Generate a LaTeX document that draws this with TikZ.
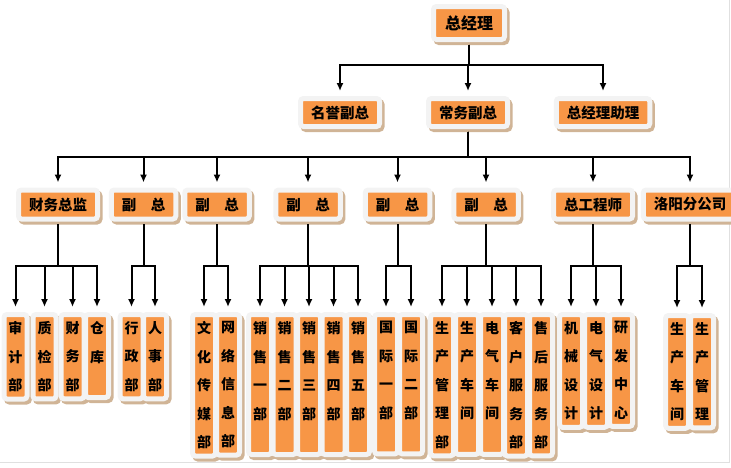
\documentclass[tikz,border=0pt]{standalone}
\usepackage{fontspec}
\newfontfamily\cjk{Noto Sans CJK SC}
\usetikzlibrary{arrows.meta,shadows}
\definecolor{boxorange}{RGB}{247,150,70}
\definecolor{boxframe}{RGB}{243,243,243}
\definecolor{boxshadow}{RGB}{208,180,150}
\tikzset{
	box/.style={fill=boxorange, draw=boxframe, line width=5pt, rounded corners=3pt,
		drop shadow={shadow xshift=2.5pt, shadow yshift=-3pt, fill=boxshadow, draw=boxshadow, line width=5pt, opacity=1},
		font=\cjk\bfseries\fontsize{14.5}{17}\selectfont, inner xsep=10.5pt, inner ysep=0pt, minimum height=29pt},
	dept/.style={box, font=\cjk\bfseries\fontsize{14}{28.5}\selectfont, align=center,
		inner xsep=4.5pt, inner ysep=7pt, minimum height=0pt, anchor=north},
	link/.style={line width=2pt, shorten <=2.5pt, shorten >=5pt, -{Latex[length=8pt,width=7pt]}},
}
\def\branch(#1)(#2)(#3){\draw[link] (#1.south) -- (#1.south |- 0,#3) -| (#2.north);}

\begin{document}
\begin{tikzpicture}[x=1pt, y=-1pt]
	%%%%% START %%%%%
	\useasboundingbox (0,0) rectangle (731,467);
	\draw[black!12, line width=0.8pt] (0,462) -- (729,462) -- (729,0);
	
	\node[box, font=\cjk\bfseries\fontsize{16}{19}\selectfont, minimum height=33pt, inner xsep=11.5pt] (zjl) at (469,23) {总经理};
	
	\node[box, minimum height=28pt] (mygz) at (340,112.5) {名誉副总};
	\node[box, minimum height=28pt] (cwfz) at (468,112.5) {常务副总};
	\node[box, minimum height=28pt] (zjlzl) at (603,112.5) {总经理助理};
	
	\node[box] (cwzj) at (58,204.5) {财务总监};
	\node[box] (fz1) at (143.5,204.5) {副\quad 总};
	\node[box] (fz2) at (217,204.5) {副\quad 总};
	\node[box] (fz3) at (308,204.5) {副\quad 总};
	\node[box] (fz4) at (397.5,204.5) {副\quad 总};
	\node[box] (fz5) at (486,204.5) {副\quad 总};
	\node[box] (zgcs) at (593,204.5) {总工程师};
	\node[box] (lyfgs) at (690,204.5) {洛阳分公司};
	
	\node[dept] (sjb) at (15.5,312) {审\\计\\部};
	\node[dept] (zjb) at (44.5,312) {质\\检\\部};
	\node[dept] (cwb) at (72.5,312) {财\\务\\部};
	\node[dept] (ck) at (97,312) {仓\\库\\\mbox{}};
	
	\node[dept] (xzb) at (131.5,312) {行\\政\\部};
	\node[dept] (rsb) at (155,312) {人\\事\\部};
	
	\node[dept] (whcm) at (204,312) {文\\化\\传\\媒\\部};
	\node[dept] (wlxx) at (228,312) {网\\络\\信\\息\\部};
	
	\node[dept] (xs1) at (260,312) {销\\售\\一\\部\\\mbox{}};
	\node[dept] (xs2) at (284.5,312) {销\\售\\二\\部\\\mbox{}};
	\node[dept] (xs3) at (309,312) {销\\售\\三\\部\\\mbox{}};
	\node[dept] (xs4) at (333.5,312) {销\\售\\四\\部\\\mbox{}};
	\node[dept] (xs5) at (358,312) {销\\售\\五\\部\\\mbox{}};
	
	\node[dept] (gj1) at (386,312) {国\\际\\一\\部\\\mbox{}};
	\node[dept] (gj2) at (411,312) {国\\际\\二\\部\\\mbox{}};
	
	\node[dept] (scgl) at (442,312) {生\\产\\管\\理\\部};
	\node[dept] (sccj) at (467,312) {生\\产\\车\\间\\\mbox{}};
	\node[dept] (dqcj) at (492,312) {电\\气\\车\\间\\\mbox{}};
	\node[dept] (khfw) at (516,312) {客\\户\\服\\务\\部};
	\node[dept] (shfw) at (541,312) {售\\后\\服\\务\\部};
	
	\node[dept] (jxsj) at (571,312) {机\\械\\设\\计};
	\node[dept] (dqsj) at (596,312) {电\\气\\设\\计};
	\node[dept] (yfzx) at (621,312) {研\\发\\中\\心};
	
	\node[dept] (lycj) at (677,313) {生\\产\\车\\间};
	\node[dept] (lygl) at (702,313) {生\\产\\管\\理};
	
	\branch(zjl)(mygz)(65);
	\branch(zjl)(cwfz)(65);
	\branch(zjl)(zjlzl)(65);
	
	\branch(cwfz)(cwzj)(157);
	\branch(cwfz)(fz1)(157);
	\branch(cwfz)(fz2)(157);
	\branch(cwfz)(fz3)(157);
	\branch(cwfz)(fz4)(157);
	\branch(cwfz)(fz5)(157);
	\branch(cwfz)(zgcs)(157);
	\branch(cwfz)(lyfgs)(157);
	
	\branch(cwzj)(sjb)(266);
	\branch(cwzj)(zjb)(266);
	\branch(cwzj)(cwb)(266);
	\branch(cwzj)(ck)(266);
	\branch(fz1)(xzb)(266);
	\branch(fz1)(rsb)(266);
	\branch(fz2)(whcm)(266);
	\branch(fz2)(wlxx)(266);
	\branch(fz3)(xs1)(266);
	\branch(fz3)(xs2)(266);
	\branch(fz3)(xs3)(266);
	\branch(fz3)(xs4)(266);
	\branch(fz3)(xs5)(266);
	\branch(fz4)(gj1)(266);
	\branch(fz4)(gj2)(266);
	\branch(fz5)(scgl)(266);
	\branch(fz5)(sccj)(266);
	\branch(fz5)(dqcj)(266);
	\branch(fz5)(khfw)(266);
	\branch(fz5)(shfw)(266);
	\branch(zgcs)(jxsj)(266);
	\branch(zgcs)(dqsj)(266);
	\branch(zgcs)(yfzx)(266);
	\branch(lyfgs)(lycj)(266);
	\branch(lyfgs)(lygl)(266);
	%%%%% END %%%%%
\end{tikzpicture}
\end{document}
